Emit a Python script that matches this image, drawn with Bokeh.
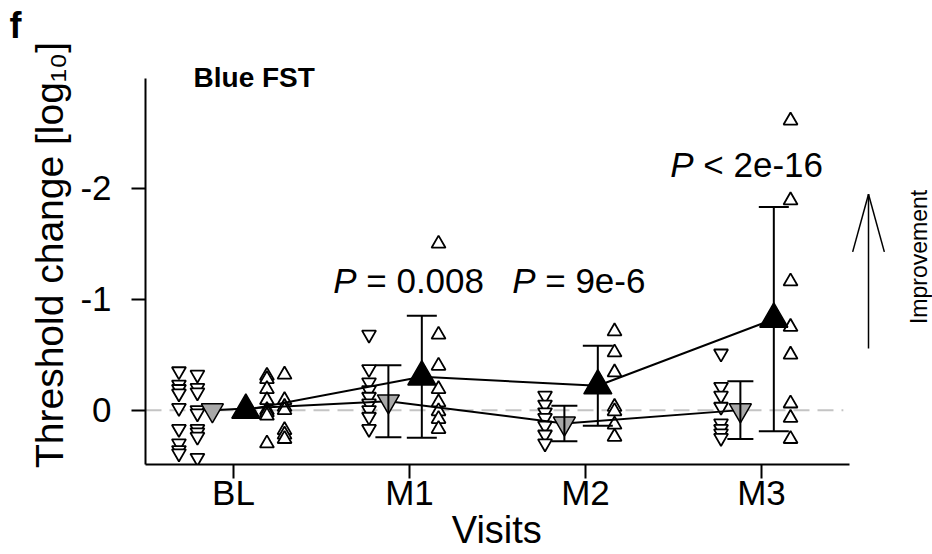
from bokeh.plotting import figure
from bokeh.models import (Range1d, FixedTicker, Label, Arrow, OpenHead,
                          Whisker, TeeHead, ColumnDataSource)
from bokeh.embed import file_html
from bokeh.resources import INLINE

# ---------------- data ----------------
visits = ["BL", "M1", "M2", "M3"]
visit_pos = [1, 2, 3, 4]
y_ticks = [-2, -1, 0]
y_tick_labels = ["-2", "-1", "0"]

# individual eyes (open down-triangles / open up-triangles)
down_BL_a = [-0.35, -0.23, -0.19, -0.15, -0.02, 0.17, 0.30, 0.36, 0.39]
down_BL_b = [-0.32, -0.20, -0.16, 0.00, 0.03, 0.17, 0.20, 0.24, 0.43]
up_BL_a = [-0.31, -0.28, -0.19, -0.09, 0.00, 0.02, 0.05, 0.30]
up_BL_b = [-0.32, -0.09, -0.03, 0.00, 0.18, 0.22, 0.26]
down_M1 = [-0.68, -0.37, -0.25, -0.18, -0.12, -0.06, 0.00, 0.06, 0.17]
up_M1 = [-1.50, -0.68, -0.40, -0.19, -0.07, 0.01, 0.08, 0.17]
down_M2 = [-0.13, -0.05, 0.02, 0.07, 0.14, 0.22, 0.30]
up_M2 = [-0.71, -0.52, -0.34, -0.03, 0.01, 0.13, 0.24]
down_M3 = [-0.51, -0.21, -0.13, -0.03, 0.12, 0.17, 0.21, 0.25]
up_M3 = [-2.61, -1.89, -1.16, -0.75, -0.50, -0.06, 0.07, 0.26]

# model means and error bars
grey_mean = [0.00, -0.08, 0.12, 0.00]
grey_sd = [0.00, 0.325, 0.16, 0.26]
black_mean = [0.00, -0.30, -0.22, -0.82]
black_sd = [0.00, 0.55, 0.36, 1.01]

p_labels = ["\u00a0= 0.008", "\u00a0= 9e-6", "\u00a0< 2e-16"]
p_visit = [2, 3, 4]
p_y = [-1.17, -1.17, -2.215]

# ---------------- layout constants ----------------
FONT = "Liberation Sans"
p_anchor_off = [-0.301, -0.284, -0.386]
off_down_a, off_down_b = -0.31, -0.205
off_down = -0.23
off_grey = -0.12
off_black = 0.07
off_up = 0.165
off_up_a, off_up_b = 0.19, 0.29

W, H = 932, 554
X_LO, X_HI = 0.5, 4.5          # extent of the x axis line
Y_BOT, Y_TOP = 0.49, -2.99     # extent of the y axis line
p = figure(width=W, height=H, output_backend="svg", toolbar_location=None,
           x_range=Range1d(0.5, 4.9716), y_range=Range1d(0.49, -3.286),
           min_border_left=145, min_border_right=0,
           min_border_top=45, min_border_bottom=90)
p.outline_line_color = None
p.grid.visible = False
p.background_fill_color = "white"

# panel letter as title
p.title.text = "f"
p.title.text_font = FONT
p.title.text_font_size = "36px"
p.title.text_font_style = "bold"
p.title.text_color = "black"
p.title.align = "left"
p.title.offset = -136
p.title.standoff = 0

# zero reference line
p.line([X_LO, X_HI - 0.035], [0, 0], line_color="#c4c4c4", line_width=2,
       line_dash="16 8")

# individual points
def pts(xs, ys, marker):
    p.scatter(x=xs, y=ys, marker=marker, size=14, fill_color="white",
              line_color="black", line_width=1.8)

pts([1 + off_down_a] * len(down_BL_a), down_BL_a, "inverted_triangle")
pts([1 + off_down_b] * len(down_BL_b), down_BL_b, "inverted_triangle")
pts([1 + off_up_a] * len(up_BL_a), up_BL_a, "triangle")
pts([1 + off_up_b] * len(up_BL_b), up_BL_b, "triangle")
for v, dn, up in [(2, down_M1, up_M1), (3, down_M2, up_M2), (4, down_M3, up_M3)]:
    pts([v + off_down] * len(dn), dn, "inverted_triangle")
    pts([v + off_up] * len(up), up, "triangle")

# connecting lines
gx = [v + off_grey for v in visit_pos]
bx = [v + off_black for v in visit_pos]
p.line(gx, grey_mean, line_color="black", line_width=2)
p.line(bx, black_mean, line_color="black", line_width=2)

# error bars (follow-up visits)
gsrc = ColumnDataSource(dict(x=gx[1:], lo=[m + s for m, s in zip(grey_mean[1:], grey_sd[1:])],
                             hi=[m - s for m, s in zip(grey_mean[1:], grey_sd[1:])]))
bsrc = ColumnDataSource(dict(x=bx[1:], lo=[m + s for m, s in zip(black_mean[1:], black_sd[1:])],
                             hi=[m - s for m, s in zip(black_mean[1:], black_sd[1:])]))
for src, cap in [(gsrc, 26), (bsrc, 30)]:
    p.add_layout(Whisker(source=src, base="x", lower="lo", upper="hi", dimension="height",
                         line_color="black", line_width=2, level="glyph",
                         upper_head=TeeHead(size=cap, line_width=2, line_color="black"),
                         lower_head=TeeHead(size=cap, line_width=2, line_color="black")))

# means
p.scatter(x=gx, y=grey_mean, marker="inverted_triangle", size=22,
          fill_color="#a8a8a8", line_color="black", line_width=1.5)
p.scatter(x=bx, y=black_mean, marker="triangle", size=28,
          fill_color="black", line_color="black", line_width=1.5)

# axes
for ax in (p.xaxis[0], p.yaxis[0]):
    ax.axis_line_width = 2
    ax.major_tick_line_width = 2
    ax.major_tick_out = 14
    ax.major_tick_in = 0
    ax.minor_tick_line_color = None
    ax.major_label_text_font = FONT
    ax.major_label_text_font_size = "35px"
    ax.major_label_text_color = "black"
    ax.axis_label_text_font = FONT
    ax.axis_label_text_font_style = "normal"
    ax.axis_label_text_color = "black"

p.xaxis.bounds = (X_LO, X_HI)
p.xaxis.ticker = FixedTicker(ticks=visit_pos)
p.xaxis.major_label_overrides = dict(zip(visit_pos, visits))
# trailing no-break spaces centre the title under the axis line rather than the wider frame
p.xaxis.axis_label = "Visits" + "\u00a0" * 8
p.xaxis.axis_label_text_font_size = "38px"
p.xaxis.major_label_standoff = -6
p.xaxis.axis_label_standoff = -6

p.yaxis.bounds = (Y_TOP, Y_BOT)
p.yaxis.ticker = FixedTicker(ticks=y_ticks)
p.yaxis.major_label_overrides = dict(zip(y_ticks, y_tick_labels))
p.yaxis.axis_label = "Threshold change [log\u2081\u2080]"
p.yaxis.axis_label_text_font_size = "39px"
p.yaxis.major_label_standoff = 20
p.yaxis.axis_label_standoff = 6

# texts
for v, t, y, o in zip(p_visit, p_labels, p_y, p_anchor_off):
    p.add_layout(Label(x=v + o, y=y, text="P", text_font=FONT, text_font_size="35px",
                       text_font_style="italic", text_align="right", text_baseline="middle",
                       text_color="black"))
    p.add_layout(Label(x=v + o, y=y, text=t, text_font=FONT, text_font_size="35px",
                       text_align="left", text_baseline="middle", text_color="black"))

p.add_layout(Label(x=0.773, y=-3.0, text="Blue FST", text_font=FONT, text_font_size="28px",
                   text_font_style="bold", text_baseline="middle", text_color="black"))

# improvement arrow: shaft plus two long head strokes
AX, A_BOT, A_TIP = 4.608, -0.556, -1.946
HEAD_DX, HEAD_DY = 0.09, 0.52
p.add_layout(Arrow(x_start=AX, y_start=A_BOT, x_end=AX, y_end=A_TIP,
                   line_width=1.5, line_color="black", end=None))
for sgn in (-1, 1):
    p.add_layout(Arrow(x_start=AX, y_start=A_TIP, x_end=AX + sgn * HEAD_DX,
                       y_end=A_TIP + HEAD_DY, line_width=1.5, line_color="black", end=None))
p.add_layout(Label(x=4.895, y=-1.38, text="Improvement", angle=90, angle_units="deg",
                   text_font=FONT, text_font_size="23px", text_align="center",
                   text_baseline="middle", text_color="black"))

open("out.html", "w").write(file_html(p, INLINE))
